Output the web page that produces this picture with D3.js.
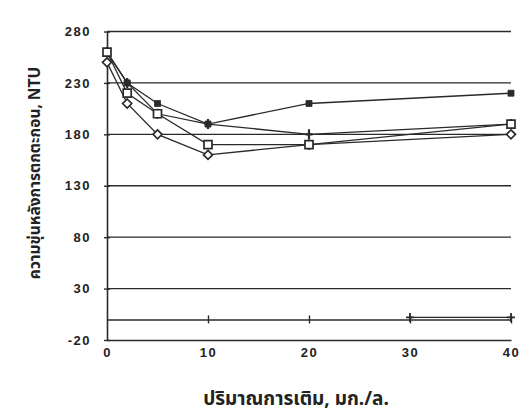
<!DOCTYPE html>
<html>
<head>
<meta charset="utf-8">
<script src="https://cdn.jsdelivr.net/npm/d3@7"></script>
<style>
  html, body { margin: 0; padding: 0; background: #fff; }
  svg { display: block; }
  .num { font-family: "Liberation Sans", Arial, sans-serif; font-weight: bold; font-size: 13px; letter-spacing: 1.5px; fill: #222; }
  .thai { font-family: "Noto Sans Thai", "Loma", "Garuda", "Norasi", "Tlwg Typo", sans-serif; font-weight: bold; fill: #222; }
</style>
</head>
<body>
<svg id="chart" width="526" height="415"></svg>
<script>
// Dose of coagulant aid (mg/L)
const doses = [0, 2, 5, 10, 20, 40];
// Residual turbidity after settling (NTU) for each test series
const filledSquareSeries = [260, 230, 210, 190, 210, 220];
const plusSeries        = [260, 230, 200, 190, 180, 190];
const openSquareSeries  = [260, 220, 200, 170, 170, 190];
const openDiamondSeries = [250, 210, 180, 160, 170, 180];
// Short blank-run series near zero
const blankDoses  = [30, 40];
const blankValues = [2, 2];

const yTicks = [-20, 30, 80, 130, 180, 230, 280];
const xTicks = [0, 10, 20, 30, 40];
const yTitle = "ความขุ่นหลังการตกตะกอน, NTU";
const xTitle = "ปริมาณการเติม, มก./ล.";

const svg = d3.select("#chart");
const ink = "#2a2a2a";

const x = d3.scaleLinear().domain([0, 40]).range([107, 511]);
const y = d3.scaleLinear().domain([-20, 280]).range([340, 31.5]);

// horizontal gridlines
svg.append("g").selectAll("line")
  .data(yTicks.filter(v => v > -20))
  .join("line")
  .attr("x1", x(0)).attr("x2", x(40))
  .attr("y1", d => y(d)).attr("y2", d => y(d))
  .attr("stroke", ink).attr("stroke-width", 1.4);

// y axis with crossing ticks
const yAxis = svg.append("g")
  .attr("transform", `translate(${x(0)},0)`)
  .call(d3.axisLeft(y).tickValues(yTicks).tickFormat(d => String(d))
    .tickSize(3).tickPadding(13).tickSizeOuter(0));
yAxis.select(".domain").attr("stroke", ink).attr("stroke-width", 1.6);
yAxis.selectAll(".tick line").attr("x2", -3).attr("x1", 3).attr("stroke", ink).attr("stroke-width", 1.4);
yAxis.selectAll(".tick text").attr("class", "num").attr("font-size", null).attr("font-family", null);

// bottom frame line carrying the dose labels
const xAxis = svg.append("g")
  .attr("transform", `translate(0,${y(-20)})`)
  .call(d3.axisBottom(x).tickValues(xTicks).tickSize(0).tickPadding(8));
xAxis.select(".domain").attr("stroke", ink).attr("stroke-width", 1.6);
xAxis.selectAll(".tick text").attr("class", "num").attr("font-size", null).attr("font-family", null);

// zero line with cross tick marks
const zeroAxis = svg.append("g")
  .attr("transform", `translate(0,${y(0)})`)
  .call(d3.axisBottom(x).tickValues(xTicks.filter(v => v > 0)).tickSize(3).tickSizeOuter(0).tickFormat(""));
zeroAxis.select(".domain").attr("stroke", ink).attr("stroke-width", 1.4);
zeroAxis.selectAll(".tick line").attr("y1", -4).attr("y2", 4).attr("stroke", ink).attr("stroke-width", 1.4);

const line = d3.line().x(d => x(d[0])).y(d => y(d[1]));
const zipped = vals => doses.map((d, i) => [d, vals[i]]);

// blank-run series
const blank = blankDoses.map((d, i) => [d, blankValues[i]]);
svg.append("path").datum(blank).attr("d", line)
  .attr("fill", "none").attr("stroke", ink).attr("stroke-width", 1.2);
svg.append("g").selectAll("path").data(blank).join("path")
  .attr("transform", d => `translate(${x(d[0])},${y(d[1])})`)
  .attr("d", "M-4,0H4M0,-4.5V4.5").attr("stroke", ink).attr("stroke-width", 1.8);

const series = [
  { vals: plusSeries, marker: "plus" },
  { vals: filledSquareSeries, marker: "filled" },
  { vals: openDiamondSeries, marker: "diamond" },
  { vals: openSquareSeries, marker: "square" }
];

// lines first
series.forEach(s => {
  svg.append("path").datum(zipped(s.vals)).attr("d", line)
    .attr("fill", "none").attr("stroke", ink).attr("stroke-width", 1.3);
});

// then markers
series.forEach(s => {
  const g = svg.append("g").selectAll("path").data(zipped(s.vals)).join("path")
    .attr("transform", d => `translate(${x(d[0])},${y(d[1])})`);
  if (s.marker === "diamond") {
    g.attr("d", "M0,-4.5L4.5,0L0,4.5L-4.5,0Z").attr("fill", "#fff").attr("stroke", ink).attr("stroke-width", 1.7);
  } else if (s.marker === "square") {
    g.attr("d", "M-4,-4H4V4H-4Z").attr("fill", "#fff").attr("stroke", ink).attr("stroke-width", 1.7);
  } else if (s.marker === "plus") {
    g.attr("d", "M-3.5,0H3.5M0,-5V5").attr("stroke", ink).attr("stroke-width", 2.2);
  } else {
    g.attr("d", "M-3,-3H3V3H-3Z").attr("fill", ink).attr("stroke", ink).attr("stroke-width", 0.8);
  }
});

// axis titles
svg.append("text").attr("class", "thai")
  .attr("transform", `translate(40,173) rotate(-90)`)
  .attr("text-anchor", "middle").attr("font-size", 15.5).text(yTitle);
svg.append("text").attr("class", "thai")
  .attr("x", 296).attr("y", 405)
  .attr("text-anchor", "middle").attr("font-size", 19).text(xTitle);
</script>
</body>
</html>
